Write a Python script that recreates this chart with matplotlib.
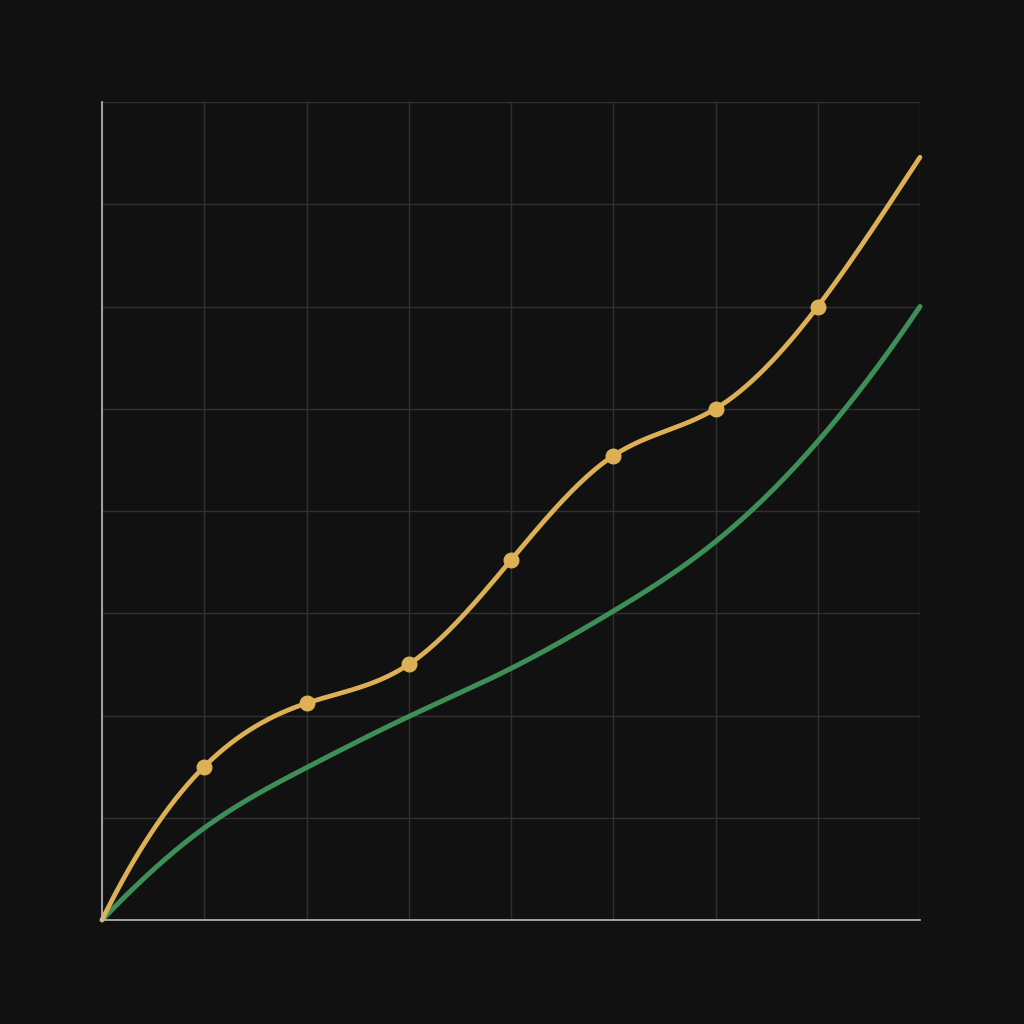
import numpy as np
import matplotlib
matplotlib.use("Agg")
import matplotlib.pyplot as plt

# values (grid units, 8 x 8 cells)
x_vals = [0, 0.5, 1, 2, 3, 4, 5, 6, 7, 8]
gold_vals = [0.0, 0.88, 1.5, 2.12, 2.5, 3.52, 4.54, 5.0, 6.0, 7.46]
green_vals = [0.0, 0.49, 0.9, 1.49, 1.99, 2.46, 3.02, 3.70, 4.68, 6.0]
marker_x = [1, 2, 3, 4, 5, 6, 7]

BG = "#111111"
GOLD = "#DDB055"
GREEN = "#3E8E57"


def smooth_curve(x, y, n=400):
    """Cubic spline through the points, not-a-knot ends."""
    x = np.asarray(x, float)
    y = np.asarray(y, float)
    k = len(x)
    h = np.diff(x)
    A = np.zeros((k, k))
    b = np.zeros(k)
    # not-a-knot: third derivative continuous at 2nd and 2nd-to-last knots
    A[0, 0], A[0, 1], A[0, 2] = h[1], -(h[0] + h[1]), h[0]
    A[-1, -3], A[-1, -2], A[-1, -1] = h[-1], -(h[-2] + h[-1]), h[-2]
    for i in range(1, k - 1):
        A[i, i - 1] = h[i - 1]
        A[i, i] = 2 * (h[i - 1] + h[i])
        A[i, i + 1] = h[i]
        b[i] = 6 * ((y[i + 1] - y[i]) / h[i] - (y[i] - y[i - 1]) / h[i - 1])
    m = np.linalg.solve(A, b)
    xs = np.linspace(x[0], x[-1], n)
    seg = np.clip(np.searchsorted(x, xs) - 1, 0, k - 2)
    x0, x1 = x[seg], x[seg + 1]
    hh = x1 - x0
    t0, t1 = x1 - xs, xs - x0
    ys = (m[seg] * t0**3 + m[seg + 1] * t1**3) / (6 * hh) \
        + (y[seg] / hh - m[seg] * hh / 6) * t0 \
        + (y[seg + 1] / hh - m[seg + 1] * hh / 6) * t1
    return xs, ys


fig = plt.figure(figsize=(10.24, 10.24), dpi=100, facecolor=BG)
ax = fig.add_axes([102 / 1024, 104 / 1024, 818 / 1024, 818 / 1024])
ax.set_facecolor(BG)

ax.set_xlim(0, 8)
ax.set_ylim(0, 8)
ax.set_xticks(range(9))
ax.set_yticks(range(9))
ax.grid(True, color="#303030", linewidth=1)
ax.tick_params(length=0, labelbottom=False, labelleft=False)
for side in ["top", "right"]:
    ax.spines[side].set_visible(False)
for side in ["left", "bottom"]:
    ax.spines[side].set_color("#bbbbbb")
    ax.spines[side].set_linewidth(1.2)

gx, gy = smooth_curve(x_vals, green_vals)
ax.plot(gx, gy, color=GREEN, linewidth=3.6, solid_capstyle="round", clip_on=False)

ox, oy = smooth_curve(x_vals, gold_vals)
ax.plot(ox, oy, color=GOLD, linewidth=3.4, solid_capstyle="round", clip_on=False)
marker_y = [gold_vals[x_vals.index(v)] for v in marker_x]
ax.plot(marker_x, marker_y, "o", color=GOLD, markersize=10.5, linestyle="none")

fig.savefig("out.png", dpi=100, facecolor=BG)
